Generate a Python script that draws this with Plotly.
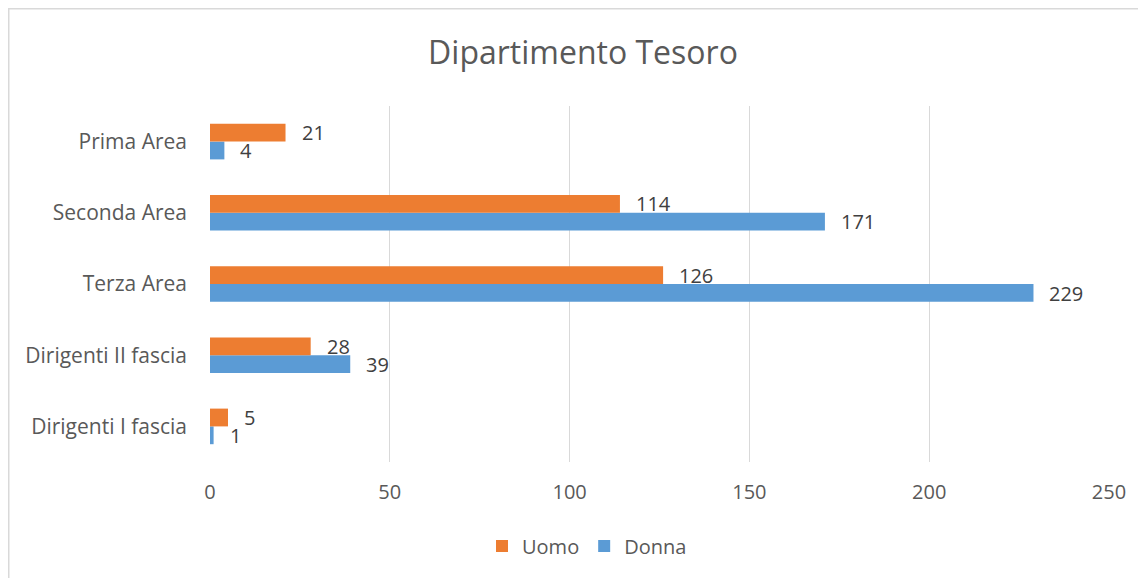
import plotly.graph_objects as go

categories = ["Dirigenti I fascia", "Dirigenti II fascia", "Terza Area", "Seconda Area", "Prima Area"]
uomo = [5, 28, 126, 114, 21]
donna = [1, 39, 229, 171, 4]
x_ticks = [0, 50, 100, 150, 200, 250]

ORANGE = "#ED7D31"
BLUE = "#5B9BD5"
FONT = "Open Sans"

W, H = 1138, 570
L, T = 202, 98
PW, PH = 899, 356

fig = go.Figure()
fig.add_trace(go.Bar(y=categories, x=donna, orientation="h", name="Donna",
                     marker=dict(color=BLUE, line=dict(width=0)), legendrank=2))
fig.add_trace(go.Bar(y=categories, x=uomo, orientation="h", name="Uomo",
                     marker=dict(color=ORANGE, line=dict(width=0)), legendrank=1))

annotations = []
for i, c in enumerate(categories):
    for val, ys in ((uomo[i], 9), (donna[i], -9)):
        annotations.append(dict(x=val, y=c, xref="x", yref="y", text=str(val),
                                showarrow=False, xanchor="left", yanchor="middle",
                                xshift=14, yshift=ys,
                                font=dict(family=FONT, size=20, color="#404040")))

fig.update_layout(
    width=W, height=H,
    margin=dict(l=L, r=W - L - PW, t=T, b=H - T - PH, autoexpand=False),
    paper_bgcolor="white", plot_bgcolor="white",
    barmode="group", bargap=0.5, bargroupgap=0,
    title=dict(text="Dipartimento Tesoro", x=(583 - 8) / W, xanchor="center", y=1 - 45 / H, yanchor="middle",
               font=dict(family=FONT, size=32, color="#595959")),
    xaxis=dict(range=[0, 250], tickvals=x_ticks, showgrid=True, gridcolor="#D9D9D9", gridwidth=1.4,
               zeroline=False, showline=False, ticks="", ticklabelstandoff=16,
               tickfont=dict(family=FONT, size=20, color="#595959")),
    yaxis=dict(categoryorder="array", categoryarray=categories, showgrid=False, zeroline=False,
               showline=False, ticks="", ticklabelstandoff=22,
               tickfont=dict(family=FONT, size=21, color="#595959")),
    legend=dict(orientation="h", x=(587 - 8 - L) / PW, xanchor="center",
                y=(T + PH - 538) / PH, yanchor="middle",
                font=dict(family=FONT, size=20, color="#595959")),
    annotations=annotations,
    shapes=[dict(type="rect", xref="paper", yref="paper",
                 x0=(0.75 - L) / PW, x1=(W + 20 - L) / PW,
                 y0=(T + PH - (H + 20)) / PH, y1=(T + PH - 0.75) / PH,
                 line=dict(color="#D9D9D9", width=1.5), fillcolor="rgba(0,0,0,0)", layer="below")],
)

fig.write_html("out.html")
